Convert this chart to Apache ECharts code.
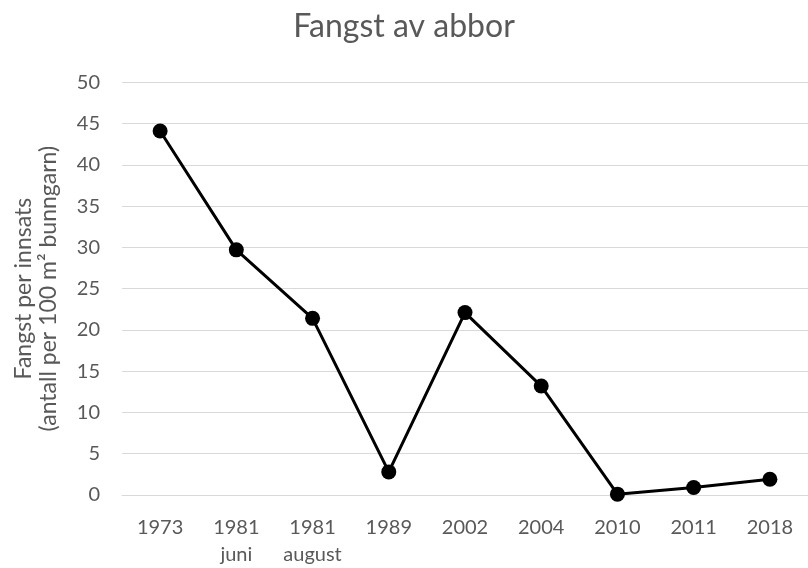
<!DOCTYPE html>
<html>
<head>
<meta charset="utf-8">
<script src="https://cdn.jsdelivr.net/npm/echarts@6/dist/echarts.min.js"></script>
<style>
html,body{margin:0;padding:0;background:#fff;}
#chart{width:808px;height:568px;}
</style>
</head>
<body>
<div id="chart"></div>
<script>
const titleText = 'Fangst av abbor';
const categories = ['1973', '1981\njuni', '1981\naugust', '1989', '2002', '2004', '2010', '2011', '2018'];
const catchValues = [44.1, 29.7, 21.4, 2.8, 22.1, 13.2, 0.1, 0.9, 1.9];
const yAxisName = 'Fangst per innsats\n(antall per 100 m² bunngarn)';
const yMin = 0, yMax = 50, yStep = 5;

const FONT = 'Lato';
const TXT = '#595959';
const chart = echarts.init(document.getElementById('chart'), null, {renderer: 'canvas'});
chart.setOption({
  animation: false,
  backgroundColor: '#ffffff',
  title: {
    text: titleText,
    left: 'center',
    top: 6,
    textStyle: {fontFamily: FONT, fontSize: 32, fontWeight: 'normal', color: TXT}
  },
  grid: {left: 122, top: 82.3, width: 688, height: 414.2, containLabel: false},
  xAxis: {
    type: 'category',
    data: categories,
    boundaryGap: true,
    axisLine: {show: true, lineStyle: {color: '#d9d9d9', width: 1}},
    axisTick: {show: false},
    axisLabel: {fontFamily: FONT, fontSize: 20, color: TXT, margin: 19, lineHeight: 27, interval: 0}
  },
  yAxis: {
    type: 'value',
    min: yMin, max: yMax, interval: yStep,
    name: yAxisName,
    nameLocation: 'middle',
    nameRotate: 90,
    nameGap: 61,
    nameTextStyle: {fontFamily: FONT, fontSize: 23, color: TXT, lineHeight: 25},
    axisLine: {show: false},
    axisTick: {show: false},
    axisLabel: {fontFamily: FONT, fontSize: 20, color: TXT, margin: 22},
    splitLine: {lineStyle: {color: '#d9d9d9', width: 1}}
  },
  series: [{
    type: 'line',
    data: catchValues,
    symbol: 'circle',
    symbolSize: 15,
    lineStyle: {color: '#000', width: 3},
    itemStyle: {color: '#000'},
    z: 3
  }]
});
</script>
</body>
</html>
